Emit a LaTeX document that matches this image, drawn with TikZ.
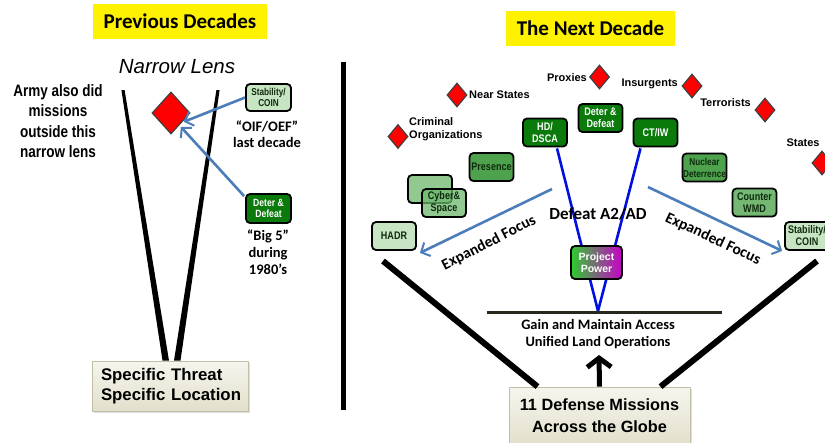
\documentclass[tikz,border=0pt]{standalone}
\usepackage{fontspec}
\setmainfont{Liberation Sans}
\newfontfamily\calfont{Carlito}
\newfontfamily\narrowfont[FakeStretch=0.82]{Liberation Sans}
\usetikzlibrary{shapes.geometric,arrows.meta,calc,shadows}
\definecolor{dkgreen}{HTML}{0A7A0A}
\definecolor{mdgreen}{HTML}{4EA24E}
\definecolor{cwgreen}{HTML}{74B874}
\definecolor{cygreen}{HTML}{6DB86D}
\definecolor{ltgreen}{HTML}{C7E5C2}
\definecolor{arrowblue}{HTML}{4A7DBA}
\definecolor{txtdark}{HTML}{0F2A0F}
\definecolor{ppgreen}{HTML}{2ECC2E}
\definecolor{ppmag}{HTML}{C800C8}
\definecolor{beigetop}{HTML}{F6F5EE}
\definecolor{beigebot}{HTML}{E2E0CB}
\definecolor{beigeline}{HTML}{C2BFA8}
\definecolor{vblue}{HTML}{0010E0}
\definecolor{hline}{HTML}{2A281C}
\begin{document}
\begin{tikzpicture}[x=1pt,y=-1pt,
  gbox/.style={draw=black, line width=1.8pt, rounded corners=4pt, minimum width=44pt,
    minimum height=28pt, inner sep=0pt, align=center,
    font=\narrowfont\bfseries\fontsize{11}{12}\selectfont},
  dkbox/.style={gbox, fill=dkgreen, text=white},
  mdbox/.style={gbox, fill=mdgreen, text=txtdark},
  cwbox/.style={gbox, fill=cwgreen, text=txtdark},
  cybox/.style={gbox, fill=cygreen, fill opacity=0.75, text opacity=1, text=txtdark},
  ltbox/.style={gbox, fill=ltgreen, text=txtdark},
  title/.style={fill=yellow, inner sep=0pt, font=\calfont\bfseries\fontsize{21}{24}\selectfont},
  redd/.style={diamond, draw=black!75, line width=1.2pt, fill=red, inner sep=0pt},
  smred/.style={redd, minimum width=20pt, minimum height=24pt},
  dlabel/.style={font=\bfseries\fontsize{11}{13.5}\selectfont, inner sep=0pt, align=left},
  cnote/.style={font=\calfont\bfseries\fontsize{14.5}{16.5}\selectfont, align=center, inner sep=0pt},
  bluearrow/.style={draw=arrowblue, line width=2.6pt, -{Straight Barb[length=7pt,width=15pt,line width=2pt]}},
  vline/.style={draw=vblue, line width=2.6pt},
  beigebox/.style={top color=beigetop, bottom color=beigebot, draw=beigeline, line width=0.8pt,
    drop shadow={shadow xshift=1.5pt, shadow yshift=-1.5pt, opacity=0.25}},
  efocus/.style={font=\calfont\bfseries\fontsize{15.5}{18}\selectfont, inner sep=0pt}
]
\useasboundingbox[fill=white] (0,0) rectangle (825,442);

% ---------------- LEFT PANEL ----------------
\node[title, minimum width=174pt, minimum height=35pt] (prev) at (180,21.5) {Previous Decades};
\node[font=\itshape\fontsize{20.5}{24}\selectfont, inner sep=0pt] (narrow) at (177,67) {Narrow Lens};
\node[font=\narrowfont\bfseries\fontsize{16.5}{20.3}\selectfont, align=center, inner sep=0pt] (army) at (58,121)
  {Army also did\\missions\\outside this\\narrow lens};

\node[beigebox, minimum width=156pt, minimum height=50pt, text width=150pt, inner xsep=3pt,
  align=left, font=\bfseries\fontsize{16.8}{20}\selectfont] (spec) at (170,386)
  {\hspace*{6pt}Specific Threat\\\hspace*{6pt}Specific Location};

% tapered lens lines
\coordinate (lensL) at (123,90);
\coordinate (lensR) at (218,90);
\fill ($(lensL)+(-1.6,0)$) -- ($(lensL)+(1.6,0)$) -- ($(spec.north)+(-1,0)$) -- ($(spec.north)+(-7.5,0)$) -- cycle;
\fill ($(lensR)+(-1.6,0)$) -- ($(lensR)+(1.6,0)$) -- ($(spec.north)+(10.5,0)$) -- ($(spec.north)+(4,0)$) -- cycle;

\node[redd, minimum width=38pt, minimum height=42pt] (bigd) at (171,113) {};

\node[ltbox, minimum width=45pt, minimum height=27pt, font=\narrowfont\bfseries\fontsize{10}{11}\selectfont] (stabL) at (268.5,97.5) {Stability/\\COIN};
\node[dkbox, minimum width=45pt, minimum height=29pt, font=\narrowfont\bfseries\fontsize{10.5}{11.5}\selectfont] (detL) at (268.5,208.5) {Deter \&\\Defeat};
\node[cnote] (oif) at (267,134) {“OIF/OEF”\\last decade};
\node[cnote, font=\calfont\bfseries\fontsize{14.5}{17}\selectfont] (big5) at (268,252) {“Big 5”\\during\\1980’s};

\draw[bluearrow] (stabL.west) -- ($(bigd.south east)+(3,-2)$);
\draw[bluearrow] ($(detL.north west)+(-1,3)$) -- ($(bigd.south east)+(0,3)$);

% divider
\coordinate (divT) at (343,62);
\coordinate (divB) at (343,410);
\draw[line width=5pt] (divT) -- (divB);

% ---------------- RIGHT PANEL ----------------
\node[title, minimum width=169pt, minimum height=35pt] (next) at (590.5,28.5) {The Next Decade};

% threats
\node[smred] (dnear) at (457,95) {};
\node[dlabel, anchor=west] (lnear) at (469,95) {Near States};
\node[smred] (dcrim) at (398,136.5) {};
\node[dlabel, anchor=west] (lcrim) at (409,129) {Criminal\\Organizations};
\node[smred] (dprox) at (599.5,77) {};
\node[dlabel, anchor=east] (lprox) at (587,78) {Proxies};
\node[smred] (dins) at (692,86) {};
\node[dlabel, anchor=east] (lins) at (678,84) {Insurgents};
\node[smred] (dterr) at (765,110) {};
\node[dlabel, anchor=east] (lterr) at (751,103) {Terrorists};
\node[smred] (dstat) at (822,163) {};
\node[dlabel] (lstat) at (803,143) {States};

% big V
\coordinate (bvL) at (383,261);
\coordinate (bvR) at (817,261);
\node[beigebox, minimum width=181pt, minimum height=58pt, align=center,
  font=\bfseries\fontsize{16.3}{22}\selectfont] (def) at (599.5,416)
  {11 Defense Missions\\Across the Globe};
\draw[line width=6pt] (bvL) -- ($(def.north)+(-62,0)$);
\draw[line width=6pt] (bvR) -- ($(def.north)+(61,0)$);

% mission boxes
\node[dkbox] (hd) at (545,132.5) {HD/\\DSCA};
\node[dkbox] (dd) at (600.5,118) {Deter \&\\Defeat};
\node[dkbox] (ct) at (655.5,132.5) {CT/IW};
\node[mdbox] (pres) at (491.5,167) {Presence};
\node[mdbox, font=\narrowfont\bfseries\fontsize{10}{12}\selectfont] (nuc) at (704.5,167.5) {Nuclear\\Deterrence};
\node[cybox] (cyb1) at (430,189) {};
\node[cybox] (cyb2) at (444,203) {Cyber\&\\Space};
\node[ltbox] (hadr) at (394,236) {HADR};
\node[cwbox] (cwmd) at (754.5,202.5) {Counter\\WMD};
\node[ltbox] (stabR) at (807,236) {Stability/\\COIN};

% A2/AD V
\coordinate (vbot) at (598,311);
\draw[vline] ($(hd.south)+(12,1)$) -- (vbot);
\draw[vline] ($(ct.south)+(-15,1)$) -- (vbot);
\node[gbox, minimum width=51pt, minimum height=33pt, left color=ppgreen, right color=ppmag,
  text=white, font=\bfseries\fontsize{10.5}{12}\selectfont] (pp) at (596.5,262.5) {Project\\Power};

\node[font=\calfont\bfseries\fontsize{17}{20}\selectfont, inner sep=0pt] (a2ad) at (598,214) {Defeat A2/AD};

% horizontal line and ULO text
\coordinate (hlL) at (487,312);
\coordinate (hlR) at (722,312);
\draw[draw=hline, line width=3pt] (hlL) -- (hlR);
\node[font=\calfont\bfseries\fontsize{14.4}{16.5}\selectfont, align=center, inner sep=0pt] (ulo) at (598,334)
  {Gain and Maintain Access\\Unified Land Operations};
\coordinate (uptip) at (599,355);
\draw[line width=5pt, -{Straight Barb[length=9pt,width=24pt,line width=5pt]}] (def.north) -- (uptip);

% expanded focus arrows
\coordinate (efL) at (552,189);
\coordinate (efR) at (648,187);
\draw[bluearrow] (efL) -- ($(hadr.south east)+(3,2)$);
\draw[bluearrow] (efR) -- ($(stabR.south west)+(-2,0)$);
\node[efocus, rotate=27] (efLt) at (489,243) {Expanded Focus};
\node[efocus, rotate=-25] (efRt) at (713,239) {Expanded Focus};
\end{tikzpicture}
\end{document}
